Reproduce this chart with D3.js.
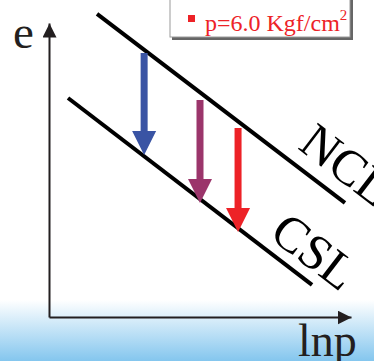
<!DOCTYPE html>
<html>
<head>
<meta charset="utf-8">
<script src="https://cdn.jsdelivr.net/npm/d3@7/dist/d3.min.js"></script>
<style>
  html, body { margin: 0; padding: 0; background: #fff; }
  svg { display: block; }
</style>
</head>
<body>
<svg id="chart" width="374" height="361"></svg>
<script>
// data (lnp on x, e on y, arbitrary units 0..10)
const lineNames = ['NCL', 'CSL'];
const lineStart = [[1.59, 10.31], [0.63, 7.45]];
const lineEnd = [[9.8, 3.88], [8.71, 1.09]];

const arrowX = [3.15, 5.0, 6.26];
const arrowFrom = [8.98, 7.38, 6.43];
const arrowTo = [5.51, 3.88, 2.89];
const arrowColors = ['#3a54a4', '#9b356b', '#ed2227'];

const legendLabel = 'p=6.0 Kgf/cm';

const svg = d3.select('#chart');
const W = 374, H = 361;
const serif = '"Liberation Serif", "Times New Roman", serif';

// scales
const x = d3.scaleLinear().domain([0, 10]).range([49, 351]);
const y = d3.scaleLinear().domain([0, 10]).range([317, 23]);

// bottom gradient band
const defs = svg.append('defs');
const grad = defs.append('linearGradient')
  .attr('id', 'band').attr('x1', 0).attr('y1', 0).attr('x2', 0).attr('y2', 1);
grad.append('stop').attr('offset', '0%').attr('stop-color', '#ffffff');
grad.append('stop').attr('offset', '100%').attr('stop-color', '#84c6ee');
svg.append('rect')
  .attr('x', 0).attr('y', 300).attr('width', W).attr('height', H - 300)
  .attr('fill', 'url(#band)');

// arrow heads for the axes
defs.append('marker')
  .attr('id', 'head').attr('markerUnits', 'userSpaceOnUse')
  .attr('markerWidth', 16).attr('markerHeight', 16)
  .attr('refX', 14).attr('refY', 7).attr('orient', 'auto')
  .append('path').attr('d', 'M0,0L14,7L0,14Z').attr('fill', '#231f20');

// axes (no ticks, only the domain line)
const xAxis = svg.append('g').attr('transform', `translate(0,${y(0)})`)
  .call(d3.axisBottom(x).tickValues([]).tickSizeOuter(0));
const yAxis = svg.append('g').attr('transform', `translate(${x(0)},0)`)
  .call(d3.axisLeft(y).tickValues([]).tickSizeOuter(0));
[xAxis, yAxis].forEach(g => {
  g.select('.domain')
    .attr('stroke', '#231f20').attr('stroke-width', 2)
    .attr('marker-end', 'url(#head)');
});

// NCL and CSL lines
svg.selectAll('line.state')
  .data(lineNames)
  .join('line')
  .attr('class', 'state')
  .attr('x1', (d, i) => x(lineStart[i][0]))
  .attr('y1', (d, i) => y(lineStart[i][1]))
  .attr('x2', (d, i) => x(lineEnd[i][0]))
  .attr('y2', (d, i) => y(lineEnd[i][1]))
  .attr('stroke', '#000').attr('stroke-width', 4);

// labels along the lines
const angle = Math.atan2(y(lineEnd[0][1]) - y(lineStart[0][1]), x(lineEnd[0][0]) - x(lineStart[0][0])) * 180 / Math.PI;
const labelAt = [[8.2, 5.75], [7.25, 2.72]];
svg.selectAll('text.state')
  .data(lineNames)
  .join('text')
  .attr('class', 'state')
  .attr('transform', (d, i) => `translate(${x(labelAt[i][0])},${y(labelAt[i][1])}) rotate(${angle})`)
  .attr('font-family', serif)
  .attr('font-size', 50)
  .attr('fill', '#000')
  .text(d => d);

// vertical arrows
const shaft = 3.5, headW = 12, headL = 24;
svg.selectAll('path.drop')
  .data(arrowX)
  .join('path')
  .attr('class', 'drop')
  .attr('fill', (d, i) => arrowColors[i])
  .attr('d', (d, i) => {
    const cx = x(d), y0 = y(arrowFrom[i]), y1 = y(arrowTo[i]);
    return `M${cx - shaft},${y0}H${cx + shaft}V${y1 - headL}H${cx + headW}L${cx},${y1}L${cx - headW},${y1 - headL}H${cx - shaft}Z`;
  });

// axis titles
svg.append('text').attr('x', 13).attr('y', 48)
  .attr('font-family', serif).attr('font-size', 47).attr('fill', '#231f20')
  .text('e');
svg.append('text').attr('x', 298).attr('y', 356)
  .attr('font-family', serif).attr('font-size', 46).attr('fill', '#231f20')
  .text('lnp');

// legend box
const lg = svg.append('g');
lg.append('rect').attr('x', 172).attr('y', -6).attr('width', 181).attr('height', 46).attr('fill', '#666');
lg.append('rect').attr('x', 170).attr('y', -8).attr('width', 180).attr('height', 45)
  .attr('fill', '#fff').attr('stroke', '#9a9a9a').attr('stroke-width', 1);
lg.append('rect').attr('x', 188).attr('y', 15).attr('width', 7).attr('height', 7).attr('fill', '#ed2227');
const lt = lg.append('text').attr('x', 205).attr('y', 31)
  .attr('font-family', serif).attr('font-size', 24).attr('fill', '#ed2227')
  .text(legendLabel);
lt.append('tspan').attr('font-size', 15).attr('dy', -11).text('2');
</script>
</body>
</html>
